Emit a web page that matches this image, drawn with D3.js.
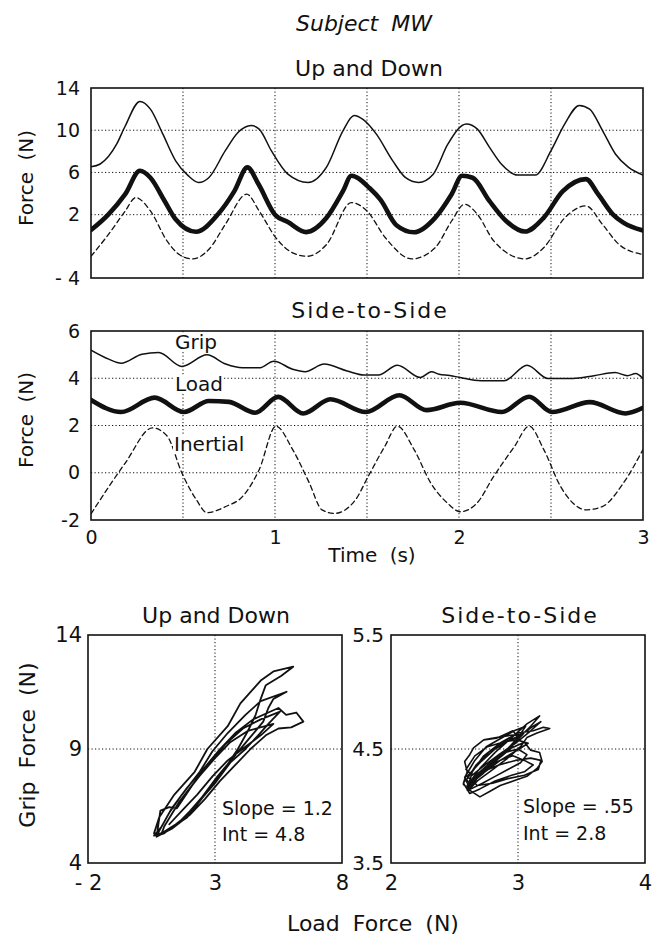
<!DOCTYPE html>
<html><head><meta charset="utf-8">
<script src="https://cdn.jsdelivr.net/npm/d3@7"></script>
<style>
body{margin:0;background:#fff}
svg{display:block}
text{font-family:"DejaVu Sans",sans-serif;fill:#111}
</style>
</head><body>
<script>
// ---------------- DATA ----------------
// Up and Down (time series, s / N)
const udGripT = [0,0.05,0.14,0.186,0.266,0.323,0.39,0.46,0.528,0.585,0.64,0.73,0.8,0.87,0.914,0.98,1.07,1.18,1.28,1.37,1.43,1.48,1.55,1.64,1.71,1.78,1.86,1.94,2.04,2.1,2.165,2.23,2.32,2.415,2.5,2.575,2.654,2.71,2.78,2.85,2.92,3.0];
const udGripV = [6.54,6.8,8.7,10.4,12.73,12.0,9.65,7.1,5.7,5.05,5.5,8.06,9.8,10.44,10.1,8.06,5.84,5.05,6.5,9.97,11.4,11.0,9.65,7.1,5.5,5.05,5.84,8.7,10.6,10.1,8.4,6.8,5.75,5.75,8.06,10.6,12.35,12.0,9.97,7.75,6.5,5.75];
const udLoadT = [0,0.095,0.186,0.266,0.323,0.4,0.46,0.57,0.69,0.78,0.85,0.91,1.0,1.07,1.17,1.28,1.37,1.415,1.515,1.574,1.66,1.755,1.87,1.96,2.017,2.074,2.165,2.256,2.358,2.46,2.563,2.69,2.756,2.836,2.893,3.0];
const udLoadV = [0.54,2.03,3.94,6.16,5.5,3.3,1.56,0.38,2.03,4.25,6.48,4.9,2.0,1.3,0.35,1.7,4.25,5.68,4.5,3.4,1.0,0.33,1.7,3.94,5.68,5.5,3.3,1.4,0.4,1.7,4.2,5.37,3.94,2.03,1.24,0.5];
const udInerT = [0,0.095,0.186,0.243,0.323,0.414,0.48,0.55,0.64,0.73,0.846,0.914,1.005,1.096,1.176,1.28,1.415,1.5,1.6,1.744,1.87,1.96,2.03,2.1,2.19,2.358,2.46,2.575,2.69,2.78,2.87,3.0];
const udInerV = [-1.94,0.13,2.35,3.62,2.35,-0.51,-1.78,-2.19,-1.3,1.08,3.94,2.35,-0.19,-1.62,-1.94,-0.83,3.14,2.35,-0.19,-2.19,-1.14,1.4,2.98,2.03,-0.51,-2.19,-1.14,1.71,2.83,1.08,-0.83,-1.78];

// Side-to-Side (time series)
const ssGripT = [0,0.096,0.164,0.277,0.368,0.494,0.63,0.732,0.823,0.914,0.994,1.096,1.164,1.267,1.392,1.483,1.562,1.665,1.79,1.85,1.892,1.95,2.006,2.12,2.245,2.37,2.483,2.62,2.734,2.848,2.916,2.96,3.0];
const ssGripV = [5.19,4.81,4.64,5.02,5.09,4.5,4.99,4.6,4.44,4.44,4.72,4.38,4.28,4.6,4.31,4.14,4.14,4.55,4.03,4.27,4.17,4.12,4.03,3.89,3.89,4.55,3.99,3.99,4.11,4.24,4.11,4.2,3.99];
const ssLoadT = [0,0.164,0.346,0.505,0.641,0.75,0.892,1.017,1.153,1.301,1.494,1.676,1.824,2.006,2.233,2.381,2.506,2.711,2.904,3.0];
const ssLoadV = [3.08,2.57,3.18,2.57,3.04,3.0,2.54,3.21,2.51,3.11,2.57,3.28,2.65,2.96,2.57,3.22,2.57,2.99,2.51,2.75];
const ssInerT = [0,0.186,0.334,0.414,0.494,0.573,0.63,0.732,0.823,0.914,1.005,1.096,1.187,1.255,1.324,1.437,1.506,1.597,1.665,1.756,1.847,1.938,2.006,2.097,2.188,2.302,2.381,2.461,2.552,2.62,2.688,2.779,2.893,3.0];
const ssInerV = [-1.74,0.41,1.9,1.55,-0.01,-1.15,-1.69,-1.43,-1.01,0.13,1.97,0.98,-0.44,-1.57,-1.72,-1.15,-0.16,1.12,1.97,0.98,-0.44,-1.29,-1.65,-1.29,-0.16,1.12,1.97,0.98,-0.58,-1.29,-1.57,-1.43,-0.44,0.98];

// Grip vs Load loops, Up and Down
const udLoopLoad = [0.6,0.8,1.4,2.2,2.7,3.5,4.0,4.8,5.3,6.08,5.6,5.0,4.8,4.6,4.3,3.9,3.3,2.6,1.9,1.1,0.6,
  0.9,1.2,1.7,2.4,2.9,3.5,4.2,4.8,5.82,5.3,5.1,4.9,4.3,3.7,3.1,2.5,1.8,1.0,
  0.7,1.3,1.9,2.6,3.2,3.8,4.5,5.1,5.5,5.8,6.2,6.48,6.0,5.5,5.0,4.4,3.8,3.2,2.6,2.0,1.3,0.7,
  0.85,1.2,1.5,2.1,2.8,3.4,4.1,4.8,5.56,5.1,4.7,4.2,3.6,3.0,2.3,1.6,0.9,
  1.0,1.6,2.3,3.0,3.6,4.3,5.3,4.8,4.2,3.5,2.9,2.3,1.7,1.2];
const udLoopGrip = [5.3,6.0,7.0,8.0,9.0,10.0,11.0,12.0,12.4,12.61,12.2,11.8,11.2,10.5,9.8,9.0,8.0,7.0,6.0,5.4,5.2,
  5.6,6.2,7.0,8.0,8.9,9.7,10.5,11.1,11.51,11.2,10.8,10.2,9.4,8.6,7.8,6.9,6.0,5.3,
  5.2,6.4,7.3,8.2,9.0,9.7,10.3,10.6,10.8,10.5,10.6,10.2,9.95,9.9,9.6,9.0,8.3,7.6,6.8,6.1,5.5,5.15,
  6.3,6.45,6.4,7.4,8.4,9.2,9.9,10.3,10.64,10.1,9.6,9.0,8.4,7.5,6.6,5.8,5.3,
  5.6,6.7,7.7,8.6,9.3,9.8,10.1,9.6,9.1,8.5,7.8,7.0,6.3,5.7];

// Grip vs Load loops, Side-to-Side
const ssLoopLoad = [2.60,2.70,2.82,2.95,3.07,3.17,3.10,2.98,2.85,2.72,2.62,
  2.58,2.66,2.75,2.86,2.97,3.06,3.00,2.90,2.78,2.66,
  2.60,2.64,2.73,2.87,3.00,3.12,3.20,3.25,3.15,3.07,3.02,2.92,2.80,2.68,
  2.62,2.70,2.80,2.93,3.05,3.10,3.17,3.19,3.15,3.07,2.99,2.86,2.78,2.70,2.63,
  2.57,2.60,2.58,2.62,2.65,2.73,2.83,2.94,3.04,2.96,2.86,2.74,2.64,
  2.60,2.68,2.78,2.90,3.00,3.07,3.02,2.92,2.82,2.72,2.63,
  2.59,2.67,2.78,2.90,3.00,2.94,2.83,2.72,2.62,
  2.61,2.66,2.76,2.88,2.96,3.05,3.12,3.05,2.95,2.82,2.70,2.62,
  2.57,2.60,2.58,2.62,2.65,2.73,2.83,2.96,3.00,2.92,2.80,2.68,
  2.62,2.72,2.85,2.98,3.10,3.18,3.16,3.05,2.92,2.80,2.68,
  2.60,2.70,2.82,2.92,3.02,3.12,3.18,3.10,2.98,2.86,2.74,2.64,
  2.59,2.66,2.76,2.88,2.99,3.08,2.98,2.86,2.74,2.63];
const ssLoopGrip = [4.18,4.33,4.47,4.60,4.72,4.79,4.70,4.57,4.43,4.30,4.20,
  4.25,4.40,4.52,4.59,4.66,4.70,4.60,4.48,4.36,4.24,
  4.14,4.30,4.44,4.56,4.64,4.66,4.69,4.68,4.64,4.60,4.52,4.42,4.32,4.22,
  4.15,4.28,4.40,4.50,4.56,4.49,4.47,4.39,4.33,4.26,4.23,4.18,4.13,4.08,4.13,
  4.19,4.30,4.39,4.45,4.51,4.58,4.60,4.62,4.63,4.54,4.44,4.34,4.24,
  4.16,4.27,4.38,4.47,4.50,4.45,4.38,4.32,4.26,4.20,4.15,
  4.22,4.36,4.48,4.57,4.60,4.50,4.40,4.28,4.19,
  4.13,4.25,4.35,4.41,4.44,4.40,4.36,4.30,4.27,4.22,4.15,4.11,
  4.20,4.30,4.39,4.45,4.51,4.58,4.595,4.66,4.60,4.50,4.38,4.26,
  4.20,4.30,4.36,4.40,4.42,4.40,4.32,4.27,4.24,4.20,4.18,
  4.26,4.38,4.50,4.57,4.62,4.70,4.74,4.66,4.55,4.46,4.36,4.27,
  4.32,4.44,4.52,4.56,4.58,4.55,4.48,4.40,4.30,4.22];

// Ticks
const timeTicks = [0,1,2,3];
const timeTickLabels = ["0","1","2","3"];
const timeGrid = [0.5,1,1.5,2,2.5];
const udTicks = [14,10,6,2,-4];
const udTickLabels = ["14","10","6","2","- 4"];
const udGrid = [10,6,2];
const ssTicks = [6,4,2,0,-2];
const ssTickLabels = ["6","4","2","0","-2"];
const ssGrid = [4,2,0];
const udXTicks = [-2,3,8], udXTickLabels = ["- 2","3","8"];
const udYTicks = [4,9,14], udYTickLabels = ["4","9","14"];
const ssXTicks = [2,3,4], ssXTickLabels = ["2","3","4"];
const ssYTicks = [3.5,4.5,5.5], ssYTickLabels = ["3.5","4.5","5.5"];

// ---------------- DRAW ----------------
const svg = d3.select("body").append("svg").attr("width",656).attr("height",937);
const INK = "#111";

const xT = d3.scaleLinear().domain([0,3]).range([91,643]);
const yUD = d3.scaleLinear().domain([-4,14]).range([278,88]);
const ySS = d3.scaleLinear().domain([-2,6]).range([520,331]);
const xL = d3.scaleLinear().domain([-2,8]).range([88,342]);
const yL = d3.scaleLinear().domain([4,14]).range([863,635]);
const xR = d3.scaleLinear().domain([2,4]).range([391,645]);
const yR = d3.scaleLinear().domain([3.5,5.5]).range([863,635]);

let clipN = 0;
function panel(x, y, xg, yg) {
  const [x0,x1] = x.range(), [y0,y1] = y.range();
  const g = svg.append("g");
  const gg = g.append("g").attr("stroke",INK).attr("stroke-width",1).attr("stroke-dasharray","1.2,2.3");
  gg.selectAll("line.vx").data(xg).join("line")
    .attr("x1",d=>x(d)).attr("x2",d=>x(d)).attr("y1",y1).attr("y2",y0);
  gg.selectAll("line.hy").data(yg).join("line")
    .attr("y1",d=>y(d)).attr("y2",d=>y(d)).attr("x1",x0).attr("x2",x1);
  const id = "clip"+(clipN++);
  svg.append("clipPath").attr("id",id).append("rect")
    .attr("x",x0).attr("y",y1).attr("width",x1-x0).attr("height",y0-y1);
  const data = g.append("g").attr("clip-path",`url(#${id})`);
  g.append("rect").attr("x",x0).attr("y",y1).attr("width",x1-x0).attr("height",y0-y1)
    .attr("fill","none").attr("stroke",INK).attr("stroke-width",1.6);
  return data;
}
function series(g, x, y, T, V, w, dash, curve) {
  const line = d3.line().x(d=>x(d[0])).y(d=>y(d[1])).curve(curve || d3.curveMonotoneX);
  g.append("path").datum(d3.zip(T,V)).attr("d",line)
    .attr("fill","none").attr("stroke",INK).attr("stroke-width",w)
    .attr("stroke-linejoin","round").attr("stroke-linecap","round")
    .attr("stroke-dasharray",dash||null);
}
function styleAxis(a, size) {
  a.select(".domain").remove();
  a.attr("font-family",null).attr("font-size",null);
  a.selectAll("text").style("font-size",size+"px").style("fill",INK);
}
function yAxis(x0, y, ticks, labels, pad, size) {
  const a = svg.append("g").attr("transform",`translate(${x0},0)`)
    .call(d3.axisLeft(y).tickValues(ticks).tickSize(0).tickPadding(pad).tickFormat((d,i)=>labels[i]));
  styleAxis(a, size);
}
function xAxis(y0, x, ticks, labels, pad, size) {
  const a = svg.append("g").attr("transform",`translate(0,${y0})`)
    .call(d3.axisBottom(x).tickValues(ticks).tickSize(0).tickPadding(pad).tickFormat((d,i)=>labels[i]));
  styleAxis(a, size);
}
function txt(s, x, y, size, opts={}) {
  const t = svg.append("text").attr("x",x).attr("y",y).style("font-size",size+"px")
    .attr("text-anchor",opts.anchor||"middle").text(s);
  if (opts.italic) t.style("font-style","italic");
  if (opts.ls) t.style("letter-spacing",opts.ls+"px");
  if (opts.ws) t.style("word-spacing",opts.ws+"px");
  if (opts.rot) t.attr("transform",`rotate(-90,${x},${y})`);
  return t;
}

// Titles
txt("Subject MW", 364, 31, 22, {italic:true, ws:6});
txt("Up and Down", 369, 76, 22);
txt("Side-to-Side", 370, 318, 22, {ls:2});

// Top panel
const p1 = panel(xT, yUD, timeGrid, udGrid);
series(p1, xT, yUD, udGripT, udGripV, 1.5);
series(p1, xT, yUD, udLoadT, udLoadV, 4.6);
series(p1, xT, yUD, udInerT, udInerV, 1.3, "5,3.5");
yAxis(91, yUD, udTicks, udTickLabels, 11, 19);
txt("Force (N)", 33, 178, 20, {rot:true, ws:5});

// Middle panel
const p2 = panel(xT, ySS, timeGrid, ssGrid);
series(p2, xT, ySS, ssGripT, ssGripV, 1.5);
series(p2, xT, ySS, ssLoadT, ssLoadV, 4.6);
series(p2, xT, ySS, ssInerT, ssInerV, 1.3, "5,3.5");
yAxis(91, ySS, ssTicks, ssTickLabels, 11, 19);
xAxis(520, xT, timeTicks, timeTickLabels, 11, 19);
txt("Force (N)", 33, 420, 20, {rot:true, ws:5});
txt("Time (s)", 372, 562, 20, {ws:6});

// in-panel labels with white backing
[["Grip",175,349],["Load",175,391],["Inertial",174,451]].forEach(([s,x,y])=>{
  const t = txt(s, x, y, 20, {anchor:"start"});
  const b = t.node().getBBox();
  svg.insert("rect", function(){return t.node();})
    .attr("x",b.x-1).attr("y",b.y+3).attr("width",b.width+2).attr("height",b.height-6).attr("fill","#fff");
});

// Bottom panels
txt("Up and Down", 216, 623, 22);
txt("Side-to-Side", 520, 623, 22, {ls:2});

const p3 = panel(xL, yL, [3], [9]);
series(p3, xL, yL, udLoopLoad, udLoopGrip, 1.8, null, d3.curveLinear);
yAxis(88, yL, udYTicks, udYTickLabels, 6, 21);
xAxis(863, xL, udXTicks, udXTickLabels, 12, 21);

const p4 = panel(xR, yR, [3], [4.5]);
series(p4, xR, yR, ssLoopLoad, ssLoopGrip, 1.6, null, d3.curveLinear);
yAxis(391, yR, ssYTicks, ssYTickLabels, 7, 20);
xAxis(863, xR, ssXTicks, ssXTickLabels, 12, 21);

txt("Grip Force (N)", 35, 745, 22, {rot:true, ws:6});
txt("Load Force (N)", 373, 931, 22, {ws:6});

txt("Slope = 1.2", 222, 815, 19, {anchor:"start"});
txt("Int = 4.8", 222, 841, 19, {anchor:"start"});
txt("Slope = .55", 523, 813, 19, {anchor:"start"});
txt("Int = 2.8", 523, 840, 19, {anchor:"start"});
</script>
</body></html>
